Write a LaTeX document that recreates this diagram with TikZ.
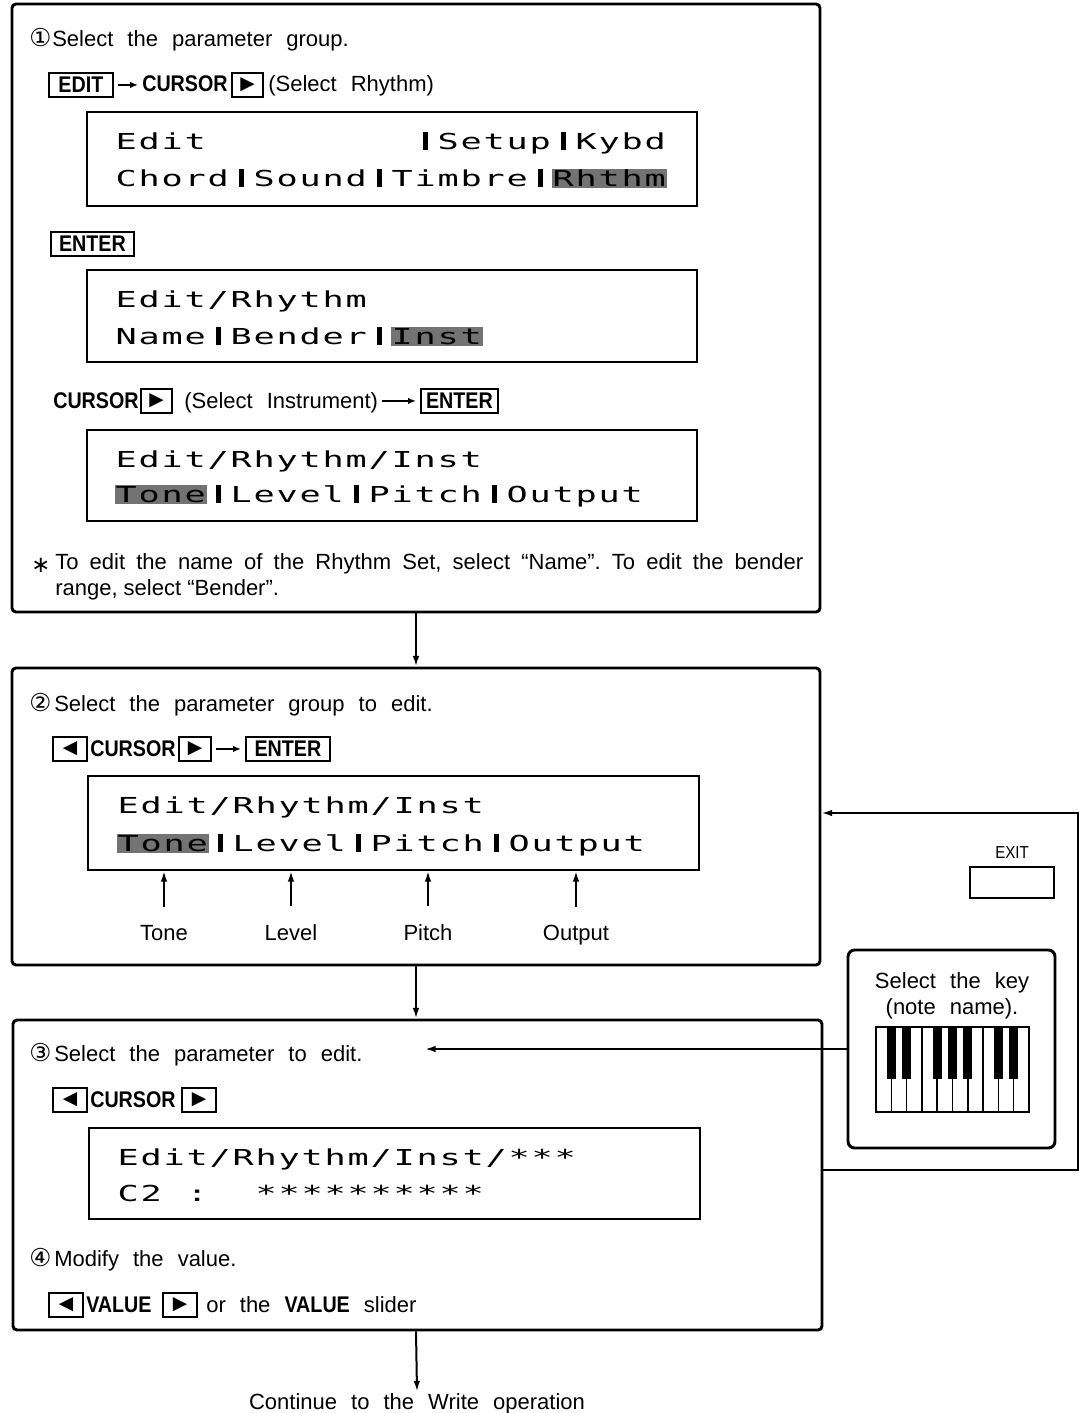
\documentclass[tikz,border=0pt]{standalone}
\usepackage{fontspec}
\usepackage{graphicx}
\setmainfont{Liberation Sans}
\newfontfamily\bodyf[WordSpace=2.3]{Liberation Sans}
\newfontfamily\condf[FakeStretch=0.87]{Liberation Sans}
\newfontfamily\dejavu{DejaVu Sans}
\newfontfamily\lcdf{DejaVu Sans Mono}
\usetikzlibrary{arrows.meta}
\newlength\lcdp \setlength\lcdp{17.25pt}
\def\lcdloop#1{\ifx#1\relax\else\lcdcell{#1}\expandafter\lcdloop\fi}
\def\lcdcell#1{\ifx#1|\makebox[\lcdp][c]{\rule[-0.6pt]{3.8pt}{13pt}}\else\makebox[\lcdp][c]{\scalebox{1.6}[1]{#1}}\fi}
\tikzset{
  mainbox/.style={draw, line width=2.2pt, rounded corners=3pt, inner sep=0pt},
  lcdbox/.style={draw, line width=1.5pt, inner sep=0pt},
  txt/.style={inner sep=0pt, anchor=base west, font=\bodyf\fontsize{16.5}{20}\selectfont},
  btxt/.style={inner sep=0pt, anchor=base west, font=\condf\bfseries\fontsize{17}{20}\selectfont},
  num/.style={inner sep=0pt, anchor=base west, font=\dejavu\fontsize{18.5}{20}\selectfont},
  btn/.style={draw, line width=1.4pt, inner sep=0pt, anchor=north west, minimum height=18pt, font=\condf\bfseries\fontsize{17}{18}\selectfont},
  tribtn/.style={btn, font=\dejavu\fontsize{14}{14}\selectfont},
  inarr/.style={line width=1.2pt, -{Latex[length=6pt,width=5pt]}, shorten <=3pt, shorten >=3pt},
  lcdtext/.style={inner sep=0pt, anchor=base west, font=\lcdf\fontsize{16.5}{18}\selectfont, text=black},
  hl/.style={fill=black!55},
  conn/.style={line width=1.5pt, -{Latex[length=8pt,width=5pt]}},
  lab/.style={inner sep=0pt, anchor=base, font=\bodyf\fontsize{16.5}{20}\selectfont}
}
\begin{document}
\begin{tikzpicture}[x=0.75pt, y=-0.75pt]
\useasboundingbox (0,0) rectangle (1080,1413);
\fill[white] (0,0) rectangle (1080,1413);

% ---------- main boxes ----------
\node[mainbox, minimum width=606pt, minimum height=456pt] (box1) at (416,308) {};
\node[mainbox, minimum width=606pt, minimum height=222.75pt] (box2) at (416,816.5) {};
\node[mainbox, minimum width=606.75pt, minimum height=232.5pt] (box3) at (417.5,1175) {};

% ---------- box 1 ----------
\node[num] (n1) at (29,47) {①};
\node[txt] (t1) at (52,47) {Select the parameter group.};
\node[btn, minimum width=48pt] (edit) at (48,72) {EDIT};
\node[btxt] (c1) at (142,92) {CURSOR};
\draw[inarr] (edit.east) -- (edit.east -| c1.west);
\node[tribtn, minimum width=23.25pt] (r1) at (231,72) {▶};
\node[txt] (s1) at (268,92) {(Select Rhythm)};

\node[lcdbox, minimum width=457.5pt, minimum height=70.5pt] (lcd1) at (392,159) {};
\fill[hl] (551.5,169) rectangle (666.5,188);
\node[lcdtext] (l1a) at (114.5,149) {\lcdloop Edit~~~~~~~~~|Setup|Kybd\relax};
\node[lcdtext] (l1b) at (114.5,186) {\lcdloop Chord|Sound|Timbre|Rhthm\relax};

\node[btn, minimum width=62.25pt] (ent1) at (50,231) {ENTER};

\node[lcdbox, minimum width=457.5pt, minimum height=69pt] (lcd2) at (392,316) {};
\fill[hl] (390.5,327) rectangle (482.5,346);
\node[lcdtext] (l2a) at (114.5,307) {\lcdloop Edit/Rhythm\relax};
\node[lcdtext] (l2b) at (114.5,344) {\lcdloop Name|Bender|Inst\relax};

\node[btxt] (c2) at (53,408) {CURSOR};
\node[tribtn, minimum width=23.25pt] (r2) at (140,388) {▶};
\node[txt] (s2) at (184,408) {(Select Instrument)};
\node[btn, minimum width=57.75pt] (ent2) at (420,388) {ENTER};
\draw[inarr] (s2.east |- ent2.west) -- (ent2.west);

\node[lcdbox, minimum width=457.5pt, minimum height=68.25pt] (lcd3) at (392,475.5) {};
\fill[hl] (114.5,485) rectangle (206.5,504);
\node[lcdtext] (l3a) at (114.5,467) {\lcdloop Edit/Rhythm/Inst\relax};
\node[lcdtext] (l3b) at (114.5,502) {\lcdloop Tone|Level|Pitch|Output\relax};

\node[inner sep=0pt, anchor=base west, font=\dejavu\fontsize{17}{18}\selectfont] (ast) at (31,572) {∗};
\node[inner sep=0pt, anchor=base west, font=\fontsize{16.5}{20}\selectfont\frenchspacing] (fn1) at (55,569) {\makebox[561pt][s]{To edit the name of the Rhythm Set, select “Name”. To edit the bender}};
\node[inner sep=0pt, anchor=base west, font=\fontsize{16.5}{20}\selectfont\frenchspacing] (fn2) at (55,595) {range, select “Bender”.};

% ---------- box 2 ----------
\node[num] (n2) at (29,711) {②};
\node[txt] (t2) at (54,711) {Select the parameter group to edit.};
\node[tribtn, minimum width=25.5pt] (lf2) at (52,736) {◀};
\node[btxt] (c3) at (90,756) {CURSOR};
\node[tribtn, minimum width=24pt] (r3) at (178,736) {▶};
\node[btn, minimum width=63pt] (ent3) at (245,736) {ENTER};
\draw[inarr] (r3.east) -- (ent3.west);

\node[lcdbox, minimum width=458.25pt, minimum height=70.5pt] (lcd4) at (393.5,823) {};
\fill[hl] (116.5,834) rectangle (208.5,853);
\node[lcdtext] (l4a) at (116.5,813) {\lcdloop Edit/Rhythm/Inst\relax};
\node[lcdtext] (l4b) at (116.5,851) {\lcdloop Tone|Level|Pitch|Output\relax};

\node[lab] (tone) at (164,940) {Tone};
\node[lab] (level) at (291,940) {Level};
\node[lab] (pitch) at (428,940) {Pitch};
\node[lab] (output) at (576,940) {Output};
\foreach \n in {tone,level,pitch,output}
  \draw[conn] ([yshift=13pt]\n.north) -- (\n.north |- lcd4.south);

% ---------- box 3 ----------
\node[num] (n3) at (29,1061) {③};
\node[txt] (t3) at (54,1061) {Select the parameter to edit.};
\node[tribtn, minimum width=25.5pt] (lf4) at (52,1087) {◀};
\node[btxt] (c4) at (90,1107) {CURSOR};
\node[tribtn, minimum width=25.5pt] (r4) at (181,1087) {▶};

\node[lcdbox, minimum width=458.25pt, minimum height=68.25pt] (lcd5) at (394.5,1173.5) {};
\node[lcdtext] (l5a) at (116.5,1165) {\lcdloop Edit/Rhythm/Inst/***\relax};
\node[lcdtext] (l5b) at (116.5,1201) {\lcdloop C2~:~~**********\relax};

\node[num] (n4) at (29,1266) {④};
\node[txt] (t4) at (54,1266) {Modify the value.};
\node[tribtn, minimum width=25.5pt] (lf5) at (48,1292) {◀};
\node[btxt] (v1) at (86,1312) {VALUE};
\node[tribtn, minimum width=25.5pt] (r5) at (162,1292) {▶};
\node[txt] (s5) at (206,1312) {or the {\condf\bfseries\fontsize{17}{20}\selectfont VALUE} slider};

% ---------- right side ----------
\node[inner sep=0pt, anchor=base, font=\condf\fontsize{13}{14}\selectfont] (exitl) at (1012,858) {EXIT};
\node[draw, line width=1.4pt, inner sep=0pt, minimum width=63pt, minimum height=23.25pt] (exitb) at (1012,882.5) {};

\node[mainbox, rounded corners=5pt, minimum width=155.25pt, minimum height=148.5pt] (keybox) at (951.5,1049) {};
\node[lab] (k1) at (952,988) {Select the key};
\node[lab] (k2) at (952,1014) {(note name).};
\draw[line width=1.5pt] (876,1027) rectangle (1029,1112);
\foreach \k in {1,...,9}
  \draw[line width=1.1pt] ({876+15.3*\k},1027) -- ({876+15.3*\k},1112);
\foreach \k in {1,2,4,5,6,8,9}
  \fill ({876+15.3*\k-4.6},1027) rectangle ({876+15.3*\k+4.6},1079);

% ---------- connectors ----------
\draw[conn] (box1.south) -- (box2.north);
\draw[conn] (box2.south) -- (box2.south |- box3.north);
\node[lab] (cont) at (417,1409) {Continue to the Write operation};
\draw[conn] (box3.south -| box2.south) -- ([yshift=1pt]cont.north);

\coordinate (fbA) at (1078,1170);
\coordinate (fbB) at (1078,813);
\draw[conn, rounded corners=0pt] (box3.east |- fbA) -- (fbA) -- (fbB) -- (box2.east |- fbB);

\coordinate (kend) at (425,1049);
\draw[conn] (keybox.west |- kend) -- (kend);
\end{tikzpicture}
\end{document}
